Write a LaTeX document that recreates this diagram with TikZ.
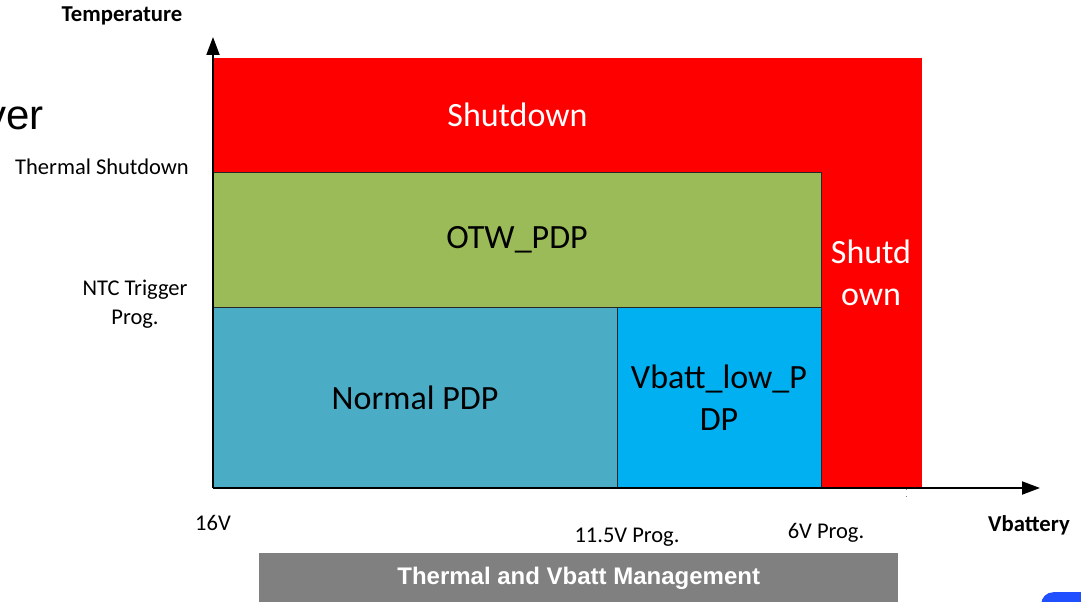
\documentclass[tikz,border=0pt]{standalone}
\usepackage{fontspec}
\setmainfont{Carlito}
\newfontfamily\arialfont{Liberation Sans}
\usetikzlibrary{arrows.meta}
\definecolor{shutred}{HTML}{FF0000}
\definecolor{otwgreen}{HTML}{9BBB59}
\definecolor{normblue}{HTML}{4BACC6}
\definecolor{lowblue}{HTML}{00B0F0}
\definecolor{bargray}{HTML}{808080}
\definecolor{cornerblue}{HTML}{1F4FFF}
\tikzset{
  region/.style={anchor=north west, inner sep=0pt, outer sep=0pt, align=center,
    font=\fontsize{34}{42}\selectfont},
  redregion/.style={region, fill=shutred, text=white},
  boxregion/.style={region, draw=black!85, line width=1pt, text=black},
  axislabel/.style={font=\fontsize{22.5}{29}\selectfont, inner sep=0pt, align=center},
  axisbold/.style={font=\bfseries\fontsize{22.7}{29}\selectfont, inner sep=0pt},
  axisline/.style={line width=2pt, -{Triangle[length=18pt,width=13pt]}},
}
\begin{document}
\begin{tikzpicture}[x=1pt,y=-1pt]
\useasboundingbox (0,0) rectangle (1081,602);
\fill[white] (0,0) rectangle (1081,602);
% regions
\node[redregion, minimum width=609pt, minimum height=114pt] (topshut) at (213,58) {Shutdown};
\node[redregion, minimum width=102pt, minimum height=430pt] (rightshut) at (820,58) {Shutd\\own};
\node[boxregion, fill=otwgreen, minimum width=608pt, minimum height=135pt] (otw) at (213,172) {OTW\_PDP};
\node[boxregion, fill=normblue, minimum width=404pt, minimum height=181pt] (normal) at (213,307) {Normal PDP};
\node[boxregion, fill=lowblue, minimum width=204pt, minimum height=181pt] (low) at (617,307) {Vbatt\_low\_P\\DP};
% axes
\coordinate (O) at (213,488);
\coordinate (ytip) at (213,37);
\coordinate (xtip) at (1040,488);
\draw[axisline] (O) -- (ytip);
\draw[axisline] (O) -- (xtip);
\coordinate (tickA) at (906,489);
\coordinate (tickB) at (906,499);
\draw[gray, line width=0.8pt, dash pattern=on 1pt off 6pt] (tickA) -- (tickB);
% labels
\node[axisbold] (temp) at (122,16) {Temperature};
\node[axislabel, anchor=east] (thsd) at (189,167) {Thermal Shutdown};
\node[axislabel] (ntc) at (135,304) {NTC Trigger\\Prog.};
\node[axislabel] (v16) at (213,523) {16V};
\node[axislabel] (v115) at (627,537) {11.5V Prog.};
\node[axislabel] (v6) at (826,533) {6V Prog.};
\node[axisbold] (vbat) at (1029,525) {Vbattery};
\node[font=\arialfont\fontsize{42}{48}\selectfont, anchor=base east, inner sep=0pt] (ver) at (44,129) {ver};
% bottom bar
\node[fill=bargray, minimum width=639pt, minimum height=50pt, inner sep=0pt, anchor=north west,
  text=white, font=\arialfont\bfseries\fontsize{24}{28}\selectfont] (bar) at (259,553) {Thermal and Vbatt Management};
\begin{scope}
\clip (0,0) rectangle (1081,602);
\node[fill=cornerblue, rounded corners=12pt, minimum width=60pt, minimum height=30pt, anchor=north west, inner sep=0pt] (corner) at (1041,592) {};
\end{scope}
\end{tikzpicture}
\end{document}
